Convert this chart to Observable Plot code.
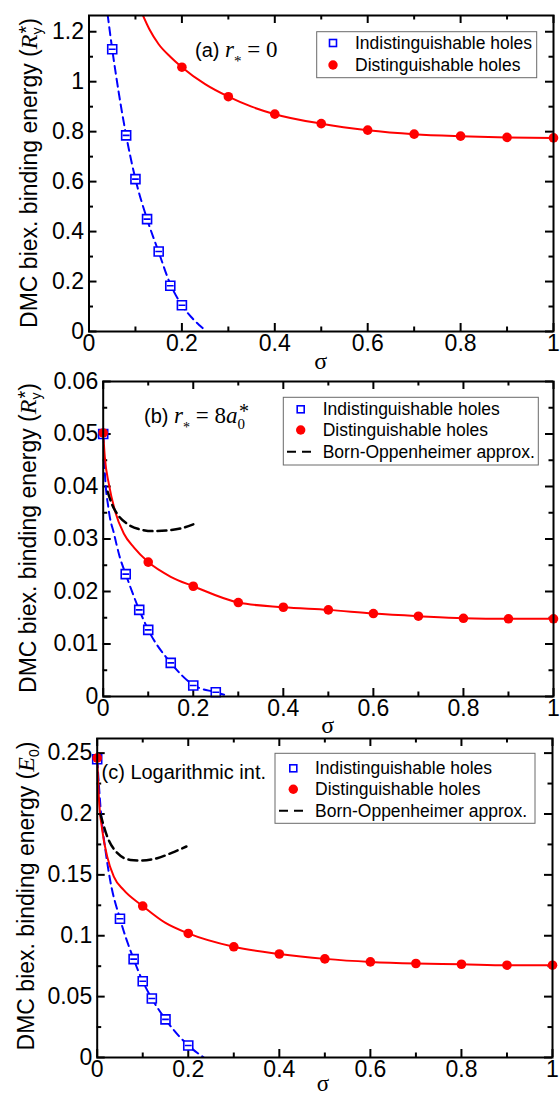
<!DOCTYPE html>
<html><head><meta charset="utf-8">
<script src="https://cdn.jsdelivr.net/npm/d3@7"></script>
<script src="https://cdn.jsdelivr.net/npm/@observablehq/plot@0.6"></script>
<style>
html,body{margin:0;padding:0;background:#fff;}
#chart{position:relative;width:560px;height:1096px;overflow:hidden;}
#chart > div{position:absolute;left:0;}
</style></head><body><div id="chart"></div>
<script>
// ---------- tick values / labels ----------
const xMajor = [0, 0.2, 0.4, 0.6, 0.8, 1];
const xLabels = ["0", "0.2", "0.4", "0.6", "0.8", "1"];
const xMinor = [0.1, 0.3, 0.5, 0.7, 0.9];

const aYMajor = [0, 0.2, 0.4, 0.6, 0.8, 1, 1.2];
const aYLabels = ["0", "0.2", "0.4", "0.6", "0.8", "1", "1.2"];
const aYMinor = [0.1, 0.3, 0.5, 0.7, 0.9, 1.1];

const bYMajor = [0, 0.01, 0.02, 0.03, 0.04, 0.05, 0.06];
const bYLabels = ["0", "0.01", "0.02", "0.03", "0.04", "0.05", "0.06"];
const bYMinor = [0.005, 0.015, 0.025, 0.035, 0.045, 0.055];

const cYMajor = [0, 0.05, 0.1, 0.15, 0.2, 0.25];
const cYLabels = ["0", "0.05", "0.1", "0.15", "0.2", "0.25"];
const cYMinor = [0.025, 0.075, 0.125, 0.175, 0.225];

// ---------- panel (a): r* = 0 ----------
const aIndX = [0.05, 0.08, 0.1, 0.125, 0.15, 0.175, 0.2];
const aIndY = [1.13, 0.785, 0.61, 0.45, 0.32, 0.183, 0.105];
const aDisX = [0.2, 0.3, 0.4, 0.5, 0.6, 0.7, 0.8, 0.9, 1.0];
const aDisY = [1.058, 0.94, 0.87, 0.832, 0.806, 0.79, 0.782, 0.777, 0.775];
const aIndFitX = [0.04, 0.05, 0.065, 0.08, 0.1, 0.125, 0.15, 0.175, 0.2, 0.22, 0.2385, 0.25];
const aIndFitY = [1.27, 1.13, 0.945, 0.785, 0.61, 0.45, 0.318, 0.19, 0.105, 0.058, 0.024, 0.005];
const aDisFitX = [0.115, 0.13, 0.15, 0.175, 0.2, 0.25, 0.3, 0.35, 0.4, 0.5, 0.6, 0.7, 0.8, 0.9, 1.0];
const aDisFitY = [1.27, 1.21, 1.15, 1.1, 1.058, 0.99, 0.94, 0.9, 0.87, 0.832, 0.806, 0.79, 0.782, 0.777, 0.775];

// ---------- panel (b): r* = 8 a0* ----------
const bIndX = [0, 0.05, 0.08, 0.1, 0.15, 0.2, 0.25];
const bIndY = [0.0500, 0.0233, 0.0165, 0.0127, 0.0064, 0.0021, 0.0008];
const bDisX = [0, 0.1, 0.2, 0.3, 0.4, 0.5, 0.6, 0.7, 0.8, 0.9, 1.0];
const bDisY = [0.0502, 0.0256, 0.0210, 0.0179, 0.0170, 0.0165, 0.0158, 0.0153, 0.0149, 0.0148, 0.0148];
const bIndFitX = [0, 0.003, 0.0125, 0.024, 0.037, 0.05, 0.08, 0.1, 0.15, 0.2, 0.25, 0.27];
const bIndFitY = [0.0500, 0.0437, 0.0354, 0.0310, 0.0265, 0.0233, 0.0165, 0.0127, 0.0064, 0.0022, 0.0008, 0.0003];
const bDisFitX = [0, 0.0036, 0.0125, 0.026, 0.046, 0.068, 0.1, 0.15, 0.2, 0.3, 0.4, 0.5, 0.6, 0.7, 0.8, 0.9, 1.0];
const bDisFitY = [0.0502, 0.0456, 0.0405, 0.0354, 0.0310, 0.0284, 0.0256, 0.0228, 0.0210, 0.0179, 0.0170, 0.0165, 0.0158, 0.0153, 0.0149, 0.0148, 0.0148];
const bBoX = [0.01, 0.02, 0.031, 0.053, 0.083, 0.113, 0.14, 0.172, 0.2];
const bBoY = [0.0390, 0.0365, 0.0348, 0.0329, 0.0318, 0.0315, 0.0316, 0.0320, 0.0328];

// ---------- panel (c): logarithmic interaction ----------
const cIndX = [0, 0.05, 0.08, 0.1, 0.12, 0.15, 0.2];
const cIndY = [0.245, 0.114, 0.0808, 0.0626, 0.0484, 0.0313, 0.0099];
const cDisX = [0, 0.1, 0.2, 0.3, 0.4, 0.5, 0.6, 0.7, 0.8, 0.9, 1.0];
const cDisY = [0.246, 0.1244, 0.1019, 0.0909, 0.085, 0.081, 0.0785, 0.0772, 0.0766, 0.0758, 0.0758];
const cIndFitX = [0, 0.009, 0.018, 0.029, 0.05, 0.08, 0.1, 0.12, 0.15, 0.2, 0.234];
const cIndFitY = [0.245, 0.198, 0.1706, 0.1445, 0.114, 0.0808, 0.0626, 0.0484, 0.0313, 0.0099, 0.0];
const cDisFitX = [0, 0.0035, 0.011, 0.022, 0.0365, 0.058, 0.1, 0.15, 0.2, 0.3, 0.4, 0.5, 0.6, 0.7, 0.8, 0.9, 1.0];
const cDisFitY = [0.246, 0.2145, 0.187, 0.165, 0.1486, 0.1376, 0.1244, 0.1105, 0.1019, 0.0909, 0.085, 0.081, 0.0785, 0.0772, 0.0766, 0.0758, 0.0758];
const cBoX = [0.007, 0.022, 0.044, 0.073, 0.099, 0.132, 0.165, 0.196];
const cBoY = [0.200, 0.1815, 0.168, 0.1623, 0.1618, 0.1637, 0.1683, 0.1733];

const legendLabels = ["Indistinguishable holes", "Distinguishable holes", "Born-Oppenheimer approx."];

// ---------- helpers ----------
const BLUE = "#0000ff", RED = "#ff0000";
const SANS = "Liberation Sans, Arial, Helvetica, sans-serif";
const SERIF = "Liberation Serif, Times New Roman, serif";
const pts = (xs, ys) => xs.map((x, i) => ({x, y: ys[i]}));

const squareBar = {
  draw(ctx, size) {
    const r = Math.sqrt(size / Math.PI);
    ctx.moveTo(-r, -r); ctx.lineTo(r, -r); ctx.lineTo(r, r); ctx.lineTo(-r, r); ctx.closePath();
    ctx.moveTo(-r * 0.75, 0); ctx.lineTo(r * 0.75, 0);
  }
};

function addText(svg, top, x, y, parts, opts = {}) {
  const t = d3.select(svg).append("text")
    .attr("font-family", opts.font || SANS).attr("font-size", opts.size || 20)
    .attr("fill", "black").attr("text-anchor", opts.anchor || "start").style("white-space", "pre");
  if (opts.rotate) t.attr("transform", `translate(${x},${y - top}) rotate(-90)`);
  else t.attr("x", x).attr("y", y - top);
  if (opts.dy) t.attr("dy", opts.dy);
  for (const p of parts) {
    const s = t.append("tspan").text(p.t);
    if (p.font) s.attr("font-family", p.font);
    if (p.italic) s.attr("font-style", "italic");
    if (p.size) s.attr("font-size", p.size);
    if (p.dx) s.attr("dx", p.dx);
    if (p.dy) s.attr("dy", p.dy);
  }
}

function addLegend(svg, top, box, rows) {
  const g = d3.select(svg).append("g");
  g.append("rect").attr("x", box.x).attr("y", box.y - top).attr("width", box.w).attr("height", box.h)
    .attr("fill", "white").attr("stroke", "#6a6a6a").attr("stroke-width", 1);
  rows.forEach((r) => {
    const cy = r.y - top;
    if (r.type === "square") {
      g.append("rect").attr("x", box.sx - 3.5).attr("y", cy - 3.5).attr("width", 7).attr("height", 7)
        .attr("fill", "white").attr("stroke", BLUE).attr("stroke-width", 1.6);
    } else if (r.type === "circle") {
      g.append("circle").attr("cx", box.sx).attr("cy", cy).attr("r", 4.7).attr("fill", RED);
    } else {
      g.append("line").attr("x1", box.dx1).attr("x2", box.dx2).attr("y1", cy).attr("y2", cy)
        .attr("stroke", "black").attr("stroke-width", 2).attr("stroke-dasharray", "9,6");
    }
    g.append("text").attr("x", box.tx).attr("y", cy).attr("dy", "0.35em").attr("text-anchor", "start")
      .attr("font-family", SANS).attr("font-size", 17.5).attr("fill", "black").text(r.label);
  });
}

function makePanel(cfg) {
  const innerW = 560 - cfg.ml - cfg.mr;
  const innerH = cfg.height - cfg.mt - cfg.mb;
  const fmtY = d => cfg.yLabels[cfg.yMajor.indexOf(d)];
  const fmtX = d => xLabels[xMajor.indexOf(d)];
  const tk = {stroke: "black", strokeWidth: 2};
  const marks = [
    Plot.tickX(xMajor, {x: d => d, insetTop: innerH - 8, ...tk}),
    Plot.tickX(xMajor, {x: d => d, insetBottom: innerH - 8, ...tk}),
    Plot.tickX(xMinor, {x: d => d, insetTop: innerH - 4.5, ...tk}),
    Plot.tickX(xMinor, {x: d => d, insetBottom: innerH - 4.5, ...tk}),
    Plot.tickY(cfg.yMajor, {y: d => d, insetRight: innerW - 8, ...tk}),
    Plot.tickY(cfg.yMajor, {y: d => d, insetLeft: innerW - 8, ...tk}),
    Plot.tickY(cfg.yMinor, {y: d => d, insetRight: innerW - 4.5, ...tk}),
    Plot.tickY(cfg.yMinor, {y: d => d, insetLeft: innerW - 4.5, ...tk}),
    Plot.axisX({ticks: xMajor, tickFormat: fmtX, tickSize: 0, tickPadding: 3, fontSize: 23, label: null}),
    Plot.axisY({ticks: cfg.yMajor, tickFormat: fmtY, tickSize: 0, tickPadding: 5, fontSize: 23, label: null}),
    Plot.line(pts(...cfg.indFit), {x: "x", y: "y", stroke: BLUE, strokeWidth: 2, strokeDasharray: "8,5", curve: "monotone-x", clip: true}),
    Plot.line(pts(...cfg.disFit), {x: "x", y: "y", stroke: RED, strokeWidth: 2, curve: "monotone-x", clip: true})
  ];
  if (cfg.bo) marks.push(Plot.line(pts(...cfg.bo), {x: "x", y: "y", stroke: "black", strokeWidth: 2.5, strokeDasharray: "9,5", curve: "monotone-x", clip: true}));
  marks.push(
    Plot.dot(pts(...cfg.ind), {x: "x", y: "y", symbol: squareBar, r: 4.5, stroke: BLUE, fill: "white", strokeWidth: 1.6}),
    Plot.dot(pts(...cfg.dis), {x: "x", y: "y", r: 4.8, fill: RED, stroke: "none"}),
    Plot.frame({stroke: "black", strokeWidth: 2})
  );
  const svg = Plot.plot({
    width: 560, height: cfg.height,
    marginTop: cfg.mt, marginBottom: cfg.mb, marginLeft: cfg.ml, marginRight: cfg.mr,
    x: {domain: [0, 1]}, y: {domain: cfg.yDomain},
    style: {fontFamily: SANS, fontSize: "22px", background: "transparent", overflow: "visible", color: "black"},
    marks
  });
  const holder = document.createElement("div");
  holder.style.top = cfg.top + "px";
  holder.appendChild(svg);
  document.getElementById("chart").appendChild(holder);
  return svg;
}

const titleR = [
  {t: "DMC biex. binding energy ("}, {t: "R", font: SERIF, italic: true, size: 24},
  {t: "y", size: 14, dy: 5}, {t: "*", size: 20, dx: -6, dy: -9}, {t: ")", dy: 4}
];

// ---------- panel (a) ----------
const A = {top: 0, height: 380, mt: 15, mb: 49, ml: 88.5, mr: 7, yDomain: [0, 1.265],
  yMajor: aYMajor, yLabels: aYLabels, yMinor: aYMinor,
  ind: [aIndX, aIndY], dis: [aDisX, aDisY], indFit: [aIndFitX, aIndFitY], disFit: [aDisFitX, aDisFitY]};
const svgA = makePanel(A);
addText(svgA, A.top, 37, 173, titleR, {rotate: true, anchor: "middle", size: 23});
addText(svgA, A.top, 320.7, 361, [{t: "σ"}], {anchor: "middle", size: 24, dy: "0.35em", font: SERIF});
addText(svgA, A.top, 195, 57, [
  {t: "(a) "}, {t: "r", font: SERIF, italic: true, size: 23},
  {t: "*", font: SERIF, size: 15, dy: 9}, {t: " = 0", font: SERIF, size: 23, dy: -9}
], {size: 20});
addLegend(svgA, A.top, {x: 316.7, y: 31.7, w: 220, h: 46, sx: 333, tx: 355},
  [{type: "square", label: legendLabels[0], y: 43}, {type: "circle", label: legendLabels[1], y: 65}]);

// ---------- panel (b) ----------
const B = {top: 370, height: 380, mt: 11, mb: 54, ml: 102.7, mr: 7, yDomain: [0, 0.06],
  yMajor: bYMajor, yLabels: bYLabels, yMinor: bYMinor,
  ind: [bIndX, bIndY], dis: [bDisX, bDisY], indFit: [bIndFitX, bIndFitY], disFit: [bDisFitX, bDisFitY], bo: [bBoX, bBoY]};
const svgB = makePanel(B);
addText(svgB, B.top, 36, 538, titleR, {rotate: true, anchor: "middle", size: 23});
addText(svgB, B.top, 327.8, 725, [{t: "σ"}], {anchor: "middle", size: 24, dy: "0.35em", font: SERIF});
addText(svgB, B.top, 144, 423, [
  {t: "(b) "}, {t: "r", font: SERIF, italic: true, size: 23},
  {t: "*", font: SERIF, size: 14, dy: 9}, {t: " = 8", font: SERIF, size: 23, dy: -9},
  {t: "a", font: SERIF, italic: true, size: 23},
  {t: "0", font: SERIF, size: 15, dy: 6}, {t: "*", font: SERIF, size: 20, dx: -6, dy: -11}
], {size: 20});
addLegend(svgB, B.top, {x: 283.3, y: 397.3, w: 255, h: 67.7, sx: 300.7, tx: 322.7, dx1: 287, dx2: 312},
  [{type: "square", label: legendLabels[0], y: 409.3}, {type: "circle", label: legendLabels[1], y: 430},
   {type: "dash", label: legendLabels[2], y: 451.7}]);

// ---------- panel (c) ----------
const C = {top: 728, height: 368, mt: 10, mb: 39, ml: 96.7, mr: 8, yDomain: [0, 0.262],
  yMajor: cYMajor, yLabels: cYLabels, yMinor: cYMinor,
  ind: [cIndX, cIndY], dis: [cDisX, cDisY], indFit: [cIndFitX, cIndFitY], disFit: [cDisFitX, cDisFitY], bo: [cBoX, cBoY]};
const svgC = makePanel(C);
addText(svgC, C.top, 34, 896, [
  {t: "DMC biex. binding energy ("}, {t: "E", font: SERIF, italic: true, size: 24},
  {t: "0", size: 14, dy: 5}, {t: ")", dy: -5}
], {rotate: true, anchor: "middle", size: 23});
addText(svgC, C.top, 323, 1083, [{t: "σ"}], {anchor: "middle", size: 23, dy: "0.35em", font: SERIF});
addText(svgC, C.top, 101.5, 779, [{t: "(c) Logarithmic int."}], {size: 20});
addLegend(svgC, C.top, {x: 275, y: 753.3, w: 260, h: 70, sx: 293.3, tx: 315, dx1: 279, dx2: 304},
  [{type: "square", label: legendLabels[0], y: 768.3}, {type: "circle", label: legendLabels[1], y: 789.3},
   {type: "dash", label: legendLabels[2], y: 810.7}]);
</script></body></html>
